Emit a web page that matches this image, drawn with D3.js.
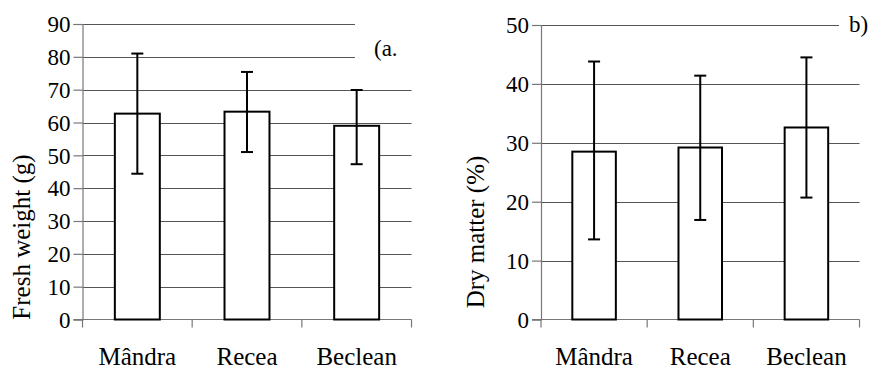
<!DOCTYPE html>
<html>
<head>
<meta charset="utf-8">
<script src="https://cdn.jsdelivr.net/npm/d3@7"></script>
<style>
  body { margin: 0; background: #fff; }
  svg text { font-family: "Liberation Serif", "Times New Roman", serif; fill: #000; }
</style>
</head>
<body>
<svg id="chart" width="872" height="369"></svg>
<script>
var sites = ["Mândra", "Recea", "Beclean"];

var freshMean = [62.7, 63.3, 59.0];
var freshHi = [81.0, 75.4, 69.9];
var freshLo = [44.4, 51.0, 47.3];
var freshTicks = [0, 10, 20, 30, 40, 50, 60, 70, 80, 90];

var dryMean = [28.5, 29.2, 32.6];
var dryHi = [43.8, 41.4, 44.5];
var dryLo = [13.6, 16.9, 20.7];
var dryTicks = [0, 10, 20, 30, 40, 50];

var svg = d3.select("#chart");
var serif = '"Liberation Serif", "Times New Roman", serif';

function panel(opt) {
	var g = svg.append("g");
	var x = d3.scaleBand().domain(sites).range([opt.left, opt.right]).paddingInner(0.59).paddingOuter(0.295);
	var y = d3.scaleLinear().domain([0, opt.max]).range([319.5, opt.top]);

	// gridlines
	g.selectAll(".grid").data(opt.ticks.slice(1)).enter().append("line")
		.attr("x1", opt.left)
		.attr("x2", function (d) { return d >= opt.shortFrom ? opt.shortEnd : opt.right; })
		.attr("y1", function (d) { return Math.round(y(d)) + 0.5; })
		.attr("y2", function (d) { return Math.round(y(d)) + 0.5; })
		.attr("stroke", "#555").attr("stroke-width", 1.2);

	// y axis
	var ya = d3.axisLeft(y).tickValues(opt.ticks).tickSize(9).tickPadding(3);
	var yg = g.append("g").attr("transform", "translate(" + opt.left + ",0)").call(ya);
	yg.attr("font-family", serif);
	yg.select(".domain").attr("stroke", "#777").attr("stroke-width", 1.2);
	yg.selectAll(".tick line").attr("stroke", "#777").attr("stroke-width", 1.2);
	yg.selectAll(".tick text").style("font-size", "23px").style("font-family", serif).attr("dy", "0.34em");

	// x axis line + ticks at band edges
	var edges = [opt.left].concat(sites.map(function (s) { return x(s) + x.bandwidth() + x.step() * 0.295; }));
	edges[edges.length - 1] = opt.right;
	g.append("line").attr("x1", opt.left - 9).attr("x2", opt.right)
		.attr("y1", y(0)).attr("y2", y(0)).attr("stroke", "#777").attr("stroke-width", 1.2);
	g.selectAll(".xt").data(edges).enter().append("line")
		.attr("x1", function (d) { return d; }).attr("x2", function (d) { return d; })
		.attr("y1", y(0)).attr("y2", y(0) + 8)
		.attr("stroke", "#777").attr("stroke-width", 1.2);

	// x labels
	g.selectAll(".xl").data(sites).enter().append("text")
		.attr("x", function (d) { return x(d) + x.bandwidth() / 2; })
		.attr("y", 365)
		.attr("text-anchor", "middle")
		.style("font-size", "25px")
		.text(function (d) { return d; });

	// bars
	g.selectAll(".bar").data(opt.mean).enter().append("rect")
		.attr("x", function (d, i) { return x(sites[i]); })
		.attr("width", x.bandwidth())
		.attr("y", function (d) { return y(d); })
		.attr("height", function (d) { return y(0) - y(d); })
		.attr("fill", "#fff").attr("stroke", "#000").attr("stroke-width", 2);

	// error bars
	var eb = g.selectAll(".err").data(opt.mean).enter().append("g");
	eb.append("line")
		.attr("x1", function (d, i) { return x(sites[i]) + x.bandwidth() / 2; })
		.attr("x2", function (d, i) { return x(sites[i]) + x.bandwidth() / 2; })
		.attr("y1", function (d, i) { return y(opt.hi[i]); })
		.attr("y2", function (d, i) { return y(opt.lo[i]); })
		.attr("stroke", "#000").attr("stroke-width", 2);
	[opt.hi, opt.lo].forEach(function (arr) {
		eb.append("line")
			.attr("x1", function (d, i) { return x(sites[i]) + x.bandwidth() / 2 - 6; })
			.attr("x2", function (d, i) { return x(sites[i]) + x.bandwidth() / 2 + 6; })
			.attr("y1", function (d, i) { return y(arr[i]); })
			.attr("y2", function (d, i) { return y(arr[i]); })
			.attr("stroke", "#000").attr("stroke-width", 2);
	});

	// y title
	g.append("text")
		.attr("transform", "translate(" + opt.titleX + "," + opt.titleY + ") rotate(-90)")
		.attr("text-anchor", "middle")
		.style("font-size", "25px")
		.text(opt.title);

	// panel letter
	g.append("text").attr("x", opt.tagX).attr("y", opt.tagY)
		.style("font-size", "23px").text(opt.tag);
}

panel({
	left: 82.5, right: 411.5, top: 24, max: 90,
	ticks: freshTicks, mean: freshMean, hi: freshHi, lo: freshLo,
	shortFrom: 80, shortEnd: 355,
	title: "Fresh weight (g)", titleX: 30, titleY: 237,
	tag: "(a.", tagX: 374, tagY: 56
});

panel({
	left: 541, right: 859.5, top: 25, max: 50,
	ticks: dryTicks, mean: dryMean, hi: dryHi, lo: dryLo,
	shortFrom: 50, shortEnd: 839,
	title: "Dry matter (%)", titleX: 484, titleY: 232,
	tag: "b)", tagX: 849, tagY: 32
});
</script>
</body>
</html>
